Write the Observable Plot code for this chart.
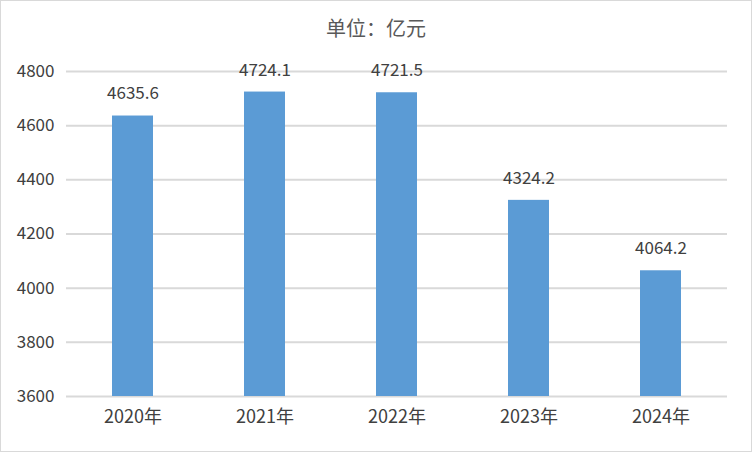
<!DOCTYPE html>
<html><head><meta charset="utf-8">
<script src="https://cdn.jsdelivr.net/npm/d3@7"></script>
<script src="https://cdn.jsdelivr.net/npm/@observablehq/plot@0.6"></script>
<style>
html,body{margin:0;padding:0;background:#fff;}
#wrap{width:750px;height:450px;border:1px solid #d9d9d9;position:relative;overflow:hidden;font-family:"Noto Sans CJK SC","Noto Sans",sans-serif;}
#title{height:50px;line-height:54px;text-align:center;font-size:20px;color:#595959;}
</style></head>
<body>
<div id="wrap"><div id="title">单位：亿元</div><div id="chart"></div></div>
<script>
const years = ["2020年","2021年","2022年","2023年","2024年"];
const values = [4635.6, 4724.1, 4721.5, 4324.2, 4064.2];
const yTicks = [3600,3800,4000,4200,4400,4600,4800];
const data = years.map((y,i)=>({year:y, value:values[i]}));
const chart = Plot.plot({
  width: 750, height: 400,
  marginTop: 20, marginBottom: 55, marginLeft: 65, marginRight: 24,
  style:{fontFamily:'"Noto Sans CJK SC","Noto Sans",sans-serif', color:"#404040", background:"transparent"},
  x:{domain:years, paddingInner:0.69, paddingOuter:0.345, label:null},
  y:{domain:[3600,4800], ticks:yTicks, tickFormat:"d", label:null},
  marks:[
    Plot.gridY(yTicks,{stroke:"#d9d9d9", strokeOpacity:1, strokeWidth:2}),
    Plot.barY(data,{x:"year", y1:3600, y2:"value", fill:"#5b9bd5"}),
    Plot.text(data,{x:"year", y:"value", text:d=>d.value.toFixed(1), dy:-22, fontSize:17, fill:"#404040"}),
    Plot.axisY(yTicks,{tickSize:0, tickPadding:12, fontSize:17, fill:"#404040", tickFormat:"d"}),
    Plot.axisX({tickSize:0, tickPadding:14, fontSize:18, fill:"#404040"})
  ]
});
document.getElementById("chart").appendChild(chart);
</script>
</body></html>
